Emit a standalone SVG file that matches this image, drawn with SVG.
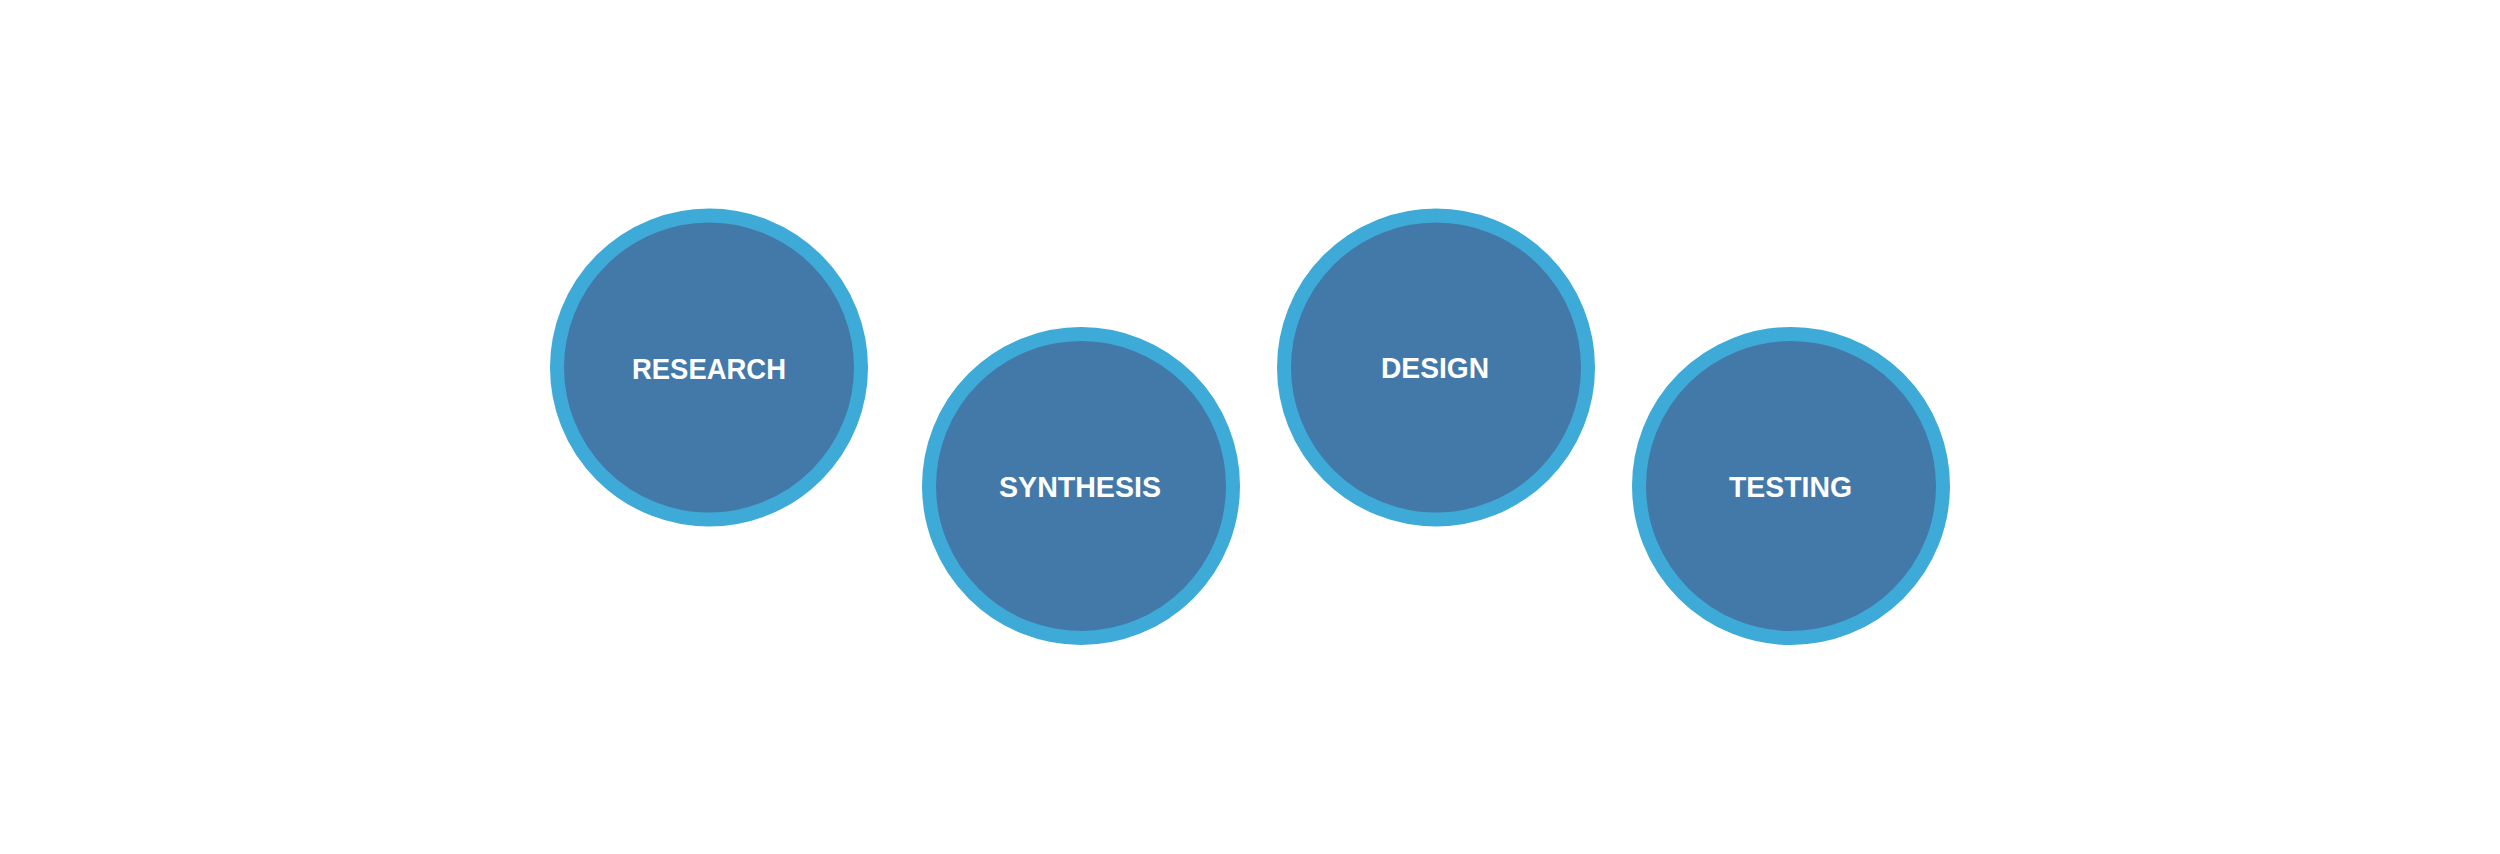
<svg xmlns="http://www.w3.org/2000/svg" width="2500" height="854" viewBox="0 0 2500 854">
<style>
.ring{fill:#4379A9;stroke:#3EAAD7;stroke-width:14}
.lbl{font-family:"Liberation Sans",Arial,sans-serif;font-weight:bold;font-size:29px;fill:#ffffff;text-anchor:middle}
</style>
<rect width="2500" height="854" fill="#ffffff"/>
<g id="connectors"></g>
<g id="research">
<circle class="ring" cx="709" cy="367.5" r="152"/>
<text class="lbl" x="709" y="379" textLength="154" lengthAdjust="spacingAndGlyphs">RESEARCH</text>
</g>
<g id="synthesis">
<circle class="ring" cx="1081" cy="486" r="152"/>
<text class="lbl" x="1080" y="497" textLength="162" lengthAdjust="spacingAndGlyphs">SYNTHESIS</text>
</g>
<g id="design">
<circle class="ring" cx="1436" cy="367.5" r="152"/>
<text class="lbl" x="1435" y="378" textLength="108" lengthAdjust="spacingAndGlyphs">DESIGN</text>
</g>
<g id="testing">
<circle class="ring" cx="1791" cy="486" r="152"/>
<text class="lbl" x="1790.5" y="497" textLength="123" lengthAdjust="spacingAndGlyphs">TESTING</text>
</g>
</svg>
